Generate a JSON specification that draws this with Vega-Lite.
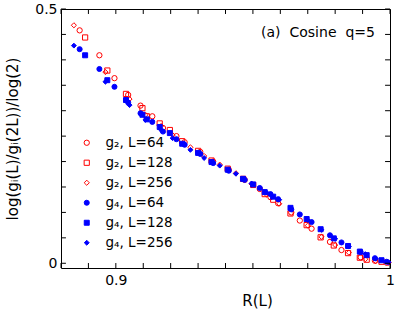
{
"$schema":"https://vega.github.io/schema/vega-lite/v6.json",
"autosize":{"type":"none"},
"padding":{"left":61,"top":9,"right":9,"bottom":45},
"width":329,"height":259,
"config":{"font":"DejaVu Sans","view":{"stroke":"black","strokeWidth":1},"axis":{"grid":false,"domain":false,"labelColor":"black","titleColor":"black","labelFont":"DejaVu Sans","titleFont":"DejaVu Sans","labelFontSize":14,"titleFontSize":15,"titleFontWeight":"normal"},"legend":{"labelFont":"DejaVu Sans","labelFontSize":13.5,"labelColor":"black"}},
"datasets":{"pts":[
{"R":0.8847,"v":0.468,"s":"g₂, L=256"},{"R":0.8868,"v":0.458,"s":"g₂, L=64"},{"R":0.8888,"v":0.444,"s":"g₂, L=128"},{"R":0.8940,"v":0.409,"s":"g₂, L=64"},{"R":0.8962,"v":0.376,"s":"g₂, L=256"},{"R":0.8969,"v":0.379,"s":"g₂, L=128"},{"R":0.8995,"v":0.364,"s":"g₂, L=64"},{"R":0.9037,"v":0.333,"s":"g₂, L=128"},{"R":0.9045,"v":0.331,"s":"g₂, L=64"},{"R":0.9050,"v":0.323,"s":"g₂, L=256"},{"R":0.9090,"v":0.310,"s":"g₂, L=64"},{"R":0.9097,"v":0.305,"s":"g₂, L=128"},{"R":0.9108,"v":0.292,"s":"g₂, L=256"},{"R":0.9113,"v":0.289,"s":"g₂, L=128"},{"R":0.9133,"v":0.289,"s":"g₂, L=64"},{"R":0.9160,"v":0.275,"s":"g₂, L=128"},{"R":0.9165,"v":0.270,"s":"g₂, L=256"},{"R":0.9172,"v":0.266,"s":"g₂, L=64"},{"R":0.9197,"v":0.262,"s":"g₂, L=128"},{"R":0.9207,"v":0.252,"s":"g₂, L=256"},{"R":0.9221,"v":0.250,"s":"g₂, L=64"},{"R":0.9242,"v":0.240,"s":"g₂, L=128"},{"R":0.9251,"v":0.238,"s":"g₂, L=64"},{"R":0.9272,"v":0.228,"s":"g₂, L=256"},{"R":0.9300,"v":0.221,"s":"g₂, L=128"},{"R":0.9308,"v":0.219,"s":"g₂, L=64"},{"R":0.9322,"v":0.211,"s":"g₂, L=256"},{"R":0.9349,"v":0.202,"s":"g₂, L=128"},{"R":0.9355,"v":0.200,"s":"g₂, L=64"},{"R":0.9379,"v":0.194,"s":"g₂, L=256"},{"R":0.9408,"v":0.186,"s":"g₂, L=128"},{"R":0.9412,"v":0.184,"s":"g₂, L=64"},{"R":0.9438,"v":0.177,"s":"g₂, L=256"},{"R":0.9464,"v":0.166,"s":"g₂, L=128"},{"R":0.9470,"v":0.164,"s":"g₂, L=64"},{"R":0.9495,"v":0.156,"s":"g₂, L=256"},{"R":0.9501,"v":0.154,"s":"g₂, L=128"},{"R":0.9525,"v":0.146,"s":"g₂, L=64"},{"R":0.9543,"v":0.136,"s":"g₂, L=128"},{"R":0.9550,"v":0.135,"s":"g₂, L=256"},{"R":0.9564,"v":0.130,"s":"g₂, L=64"},{"R":0.9574,"v":0.125,"s":"g₂, L=128"},{"R":0.9592,"v":0.118,"s":"g₂, L=64"},{"R":0.9596,"v":0.117,"s":"g₂, L=256"},{"R":0.9637,"v":0.098,"s":"g₂, L=128"},{"R":0.9640,"v":0.100,"s":"g₂, L=64"},{"R":0.9671,"v":0.084,"s":"g₂, L=64"},{"R":0.9696,"v":0.075,"s":"g₂, L=128"},{"R":0.9700,"v":0.074,"s":"g₂, L=256"},{"R":0.9714,"v":0.068,"s":"g₂, L=64"},{"R":0.9747,"v":0.051,"s":"g₂, L=128"},{"R":0.9750,"v":0.052,"s":"g₂, L=256"},{"R":0.9781,"v":0.042,"s":"g₂, L=64"},{"R":0.9795,"v":0.035,"s":"g₂, L=128"},{"R":0.9800,"v":0.036,"s":"g₂, L=256"},{"R":0.9823,"v":0.026,"s":"g₂, L=64"},{"R":0.9847,"v":0.020,"s":"g₂, L=128"},{"R":0.9850,"v":0.021,"s":"g₂, L=256"},{"R":0.9890,"v":0.011,"s":"g₂, L=128"},{"R":0.9893,"v":0.012,"s":"g₂, L=64"},{"R":0.9910,"v":0.008,"s":"g₂, L=256"},{"R":0.9915,"v":0.007,"s":"g₂, L=128"},{"R":0.9945,"v":0.005,"s":"g₂, L=64"},{"R":0.9948,"v":0.004,"s":"g₂, L=256"},{"R":0.9969,"v":0.003,"s":"g₂, L=128"},{"R":0.9988,"v":0.001,"s":"g₂, L=64"},{"R":0.9995,"v":0.001,"s":"g₂, L=256"},
{"R":0.8847,"v":0.428,"s":"g₄, L=256"},{"R":0.8868,"v":0.421,"s":"g₄, L=64"},{"R":0.8888,"v":0.409,"s":"g₄, L=128"},{"R":0.8940,"v":0.382,"s":"g₄, L=64"},{"R":0.8962,"v":0.357,"s":"g₄, L=256"},{"R":0.8969,"v":0.360,"s":"g₄, L=128"},{"R":0.8995,"v":0.347,"s":"g₄, L=64"},{"R":0.9037,"v":0.321,"s":"g₄, L=128"},{"R":0.9045,"v":0.316,"s":"g₄, L=64"},{"R":0.9050,"v":0.311,"s":"g₄, L=256"},{"R":0.9090,"v":0.295,"s":"g₄, L=64"},{"R":0.9097,"v":0.292,"s":"g₄, L=128"},{"R":0.9108,"v":0.282,"s":"g₄, L=256"},{"R":0.9113,"v":0.283,"s":"g₄, L=128"},{"R":0.9133,"v":0.278,"s":"g₄, L=64"},{"R":0.9160,"v":0.268,"s":"g₄, L=128"},{"R":0.9165,"v":0.262,"s":"g₄, L=256"},{"R":0.9172,"v":0.259,"s":"g₄, L=64"},{"R":0.9197,"v":0.256,"s":"g₄, L=128"},{"R":0.9207,"v":0.246,"s":"g₄, L=256"},{"R":0.9221,"v":0.244,"s":"g₄, L=64"},{"R":0.9242,"v":0.235,"s":"g₄, L=128"},{"R":0.9251,"v":0.233,"s":"g₄, L=64"},{"R":0.9272,"v":0.223,"s":"g₄, L=256"},{"R":0.9300,"v":0.217,"s":"g₄, L=128"},{"R":0.9308,"v":0.215,"s":"g₄, L=64"},{"R":0.9322,"v":0.207,"s":"g₄, L=256"},{"R":0.9349,"v":0.199,"s":"g₄, L=128"},{"R":0.9355,"v":0.197,"s":"g₄, L=64"},{"R":0.9379,"v":0.192,"s":"g₄, L=256"},{"R":0.9408,"v":0.184,"s":"g₄, L=128"},{"R":0.9412,"v":0.182,"s":"g₄, L=64"},{"R":0.9438,"v":0.176,"s":"g₄, L=256"},{"R":0.9464,"v":0.166,"s":"g₄, L=128"},{"R":0.9470,"v":0.164,"s":"g₄, L=64"},{"R":0.9495,"v":0.157,"s":"g₄, L=256"},{"R":0.9501,"v":0.155,"s":"g₄, L=128"},{"R":0.9525,"v":0.148,"s":"g₄, L=64"},{"R":0.9543,"v":0.140,"s":"g₄, L=128"},{"R":0.9550,"v":0.139,"s":"g₄, L=256"},{"R":0.9564,"v":0.136,"s":"g₄, L=64"},{"R":0.9574,"v":0.131,"s":"g₄, L=128"},{"R":0.9592,"v":0.126,"s":"g₄, L=64"},{"R":0.9596,"v":0.125,"s":"g₄, L=256"},{"R":0.9637,"v":0.109,"s":"g₄, L=128"},{"R":0.9640,"v":0.106,"s":"g₄, L=64"},{"R":0.9671,"v":0.096,"s":"g₄, L=64"},{"R":0.9696,"v":0.087,"s":"g₄, L=128"},{"R":0.9700,"v":0.085,"s":"g₄, L=256"},{"R":0.9714,"v":0.081,"s":"g₄, L=64"},{"R":0.9747,"v":0.067,"s":"g₄, L=128"},{"R":0.9750,"v":0.066,"s":"g₄, L=256"},{"R":0.9781,"v":0.055,"s":"g₄, L=64"},{"R":0.9795,"v":0.049,"s":"g₄, L=128"},{"R":0.9800,"v":0.048,"s":"g₄, L=256"},{"R":0.9823,"v":0.041,"s":"g₄, L=64"},{"R":0.9847,"v":0.034,"s":"g₄, L=128"},{"R":0.9850,"v":0.033,"s":"g₄, L=256"},{"R":0.9890,"v":0.023,"s":"g₄, L=128"},{"R":0.9893,"v":0.022,"s":"g₄, L=64"},{"R":0.9910,"v":0.018,"s":"g₄, L=256"},{"R":0.9915,"v":0.016,"s":"g₄, L=128"},{"R":0.9945,"v":0.010,"s":"g₄, L=64"},{"R":0.9948,"v":0.009,"s":"g₄, L=256"},{"R":0.9969,"v":0.006,"s":"g₄, L=128"},{"R":0.9988,"v":0.003,"s":"g₄, L=64"},{"R":0.9995,"v":0.002,"s":"g₄, L=256"}
],
"xt":[{"t":0.88},{"t":0.89},{"t":0.9},{"t":0.91},{"t":0.92},{"t":0.93},{"t":0.94},{"t":0.95},{"t":0.96},{"t":0.97},{"t":0.98},{"t":0.99},{"t":1.0}],
"yt":[{"t":0},{"t":0.05},{"t":0.1},{"t":0.15},{"t":0.2},{"t":0.25},{"t":0.3},{"t":0.35},{"t":0.4},{"t":0.45},{"t":0.5}],
"note":[{"R":0.9945,"v":0.453,"t":"(a)\u00a0 Cosine\u00a0 q=5"}]},
"layer":[
{"data":{"name":"pts"},
"mark":{"type":"point","opacity":1,"strokeWidth":1},
"encoding":{
"x":{"field":"R","type":"quantitative","scale":{"domain":[0.88,1.0],"nice":false,"zero":false},
"axis":{"orient":"bottom","ticks":false,"values":[0.88,0.89,0.9,0.91,0.92,0.93,0.94,0.95,0.96,0.97,0.98,0.99,1.0],"format":"~g","labelExpr":"datum.value==0.9||datum.value==0.95||datum.value==1?datum.label:''","labelFlush":false,"labelPadding":5,"title":"R(L)","titleX":196,"titleY":32,"titleBaseline":"middle","titleAlign":"center"}},
"y":{"field":"v","type":"quantitative","scale":{"domain":[-0.0093,0.5],"nice":false,"zero":false},
"axis":{"orient":"left","ticks":false,"values":[0,0.05,0.1,0.15,0.2,0.25,0.3,0.35,0.4,0.45,0.5],"format":"~g","labelExpr":"datum.value==0||datum.value==0.25||datum.value==0.5?datum.label:''","labelFlush":false,"labelPadding":4,"title":"log(gᵢ(L)/gᵢ(2L))/log(2)","titleX":-49,"titleY":129.5,"titleAngle":-90,"titleAlign":"center","titleBaseline":"middle"}},
"shape":{"field":"s","type":"nominal","scale":{"domain":["g₂, L=64","g₂, L=128","g₂, L=256","g₄, L=64","g₄, L=128","g₄, L=256"],"range":["circle","square","diamond","circle","square","diamond"]},
"legend":{"title":null,"orient":"none","legendX":19,"legendY":127,"padding":0,"rowPadding":5,"labelOffset":12,"symbolStrokeWidth":1}},
"stroke":{"field":"s","type":"nominal","scale":{"domain":["g₂, L=64","g₂, L=128","g₂, L=256","g₄, L=64","g₄, L=128","g₄, L=256"],"range":["#ff0000","#ff0000","#ff0000","#0000ff","#0000ff","#0000ff"]}},
"fill":{"field":"s","type":"nominal","scale":{"domain":["g₂, L=64","g₂, L=128","g₂, L=256","g₄, L=64","g₄, L=128","g₄, L=256"],"range":["transparent","transparent","transparent","#0000ff","#0000ff","#0000ff"]}},
"size":{"field":"s","type":"nominal","scale":{"domain":["g₂, L=64","g₂, L=128","g₂, L=256","g₄, L=64","g₄, L=128","g₄, L=256"],"range":[28,24,20,28,24,14]}}
}},
{"data":{"name":"xt"},"mark":{"type":"rule","color":"black","strokeWidth":1},
"encoding":{"x":{"field":"t","type":"quantitative"},"y":{"datum":-0.0093,"type":"quantitative"},"y2":{"datum":0.0005}}},
{"data":{"name":"xt"},"mark":{"type":"rule","color":"black","strokeWidth":1},
"encoding":{"x":{"field":"t","type":"quantitative"},"y":{"datum":0.5,"type":"quantitative"},"y2":{"datum":0.4902}}},
{"data":{"name":"yt"},"mark":{"type":"rule","color":"black","strokeWidth":1},
"encoding":{"y":{"field":"t","type":"quantitative"},"x":{"datum":0.88,"type":"quantitative"},"x2":{"datum":0.8818}}},
{"data":{"name":"yt"},"mark":{"type":"rule","color":"black","strokeWidth":1},
"encoding":{"y":{"field":"t","type":"quantitative"},"x":{"datum":1.0,"type":"quantitative"},"x2":{"datum":0.9982}}},
{"data":{"name":"note"},
"mark":{"type":"text","align":"right","baseline":"middle","fontSize":14,"font":"DejaVu Sans","color":"black"},
"encoding":{
"x":{"field":"R","type":"quantitative"},
"y":{"field":"v","type":"quantitative"},
"text":{"field":"t"}
}}
]
}
